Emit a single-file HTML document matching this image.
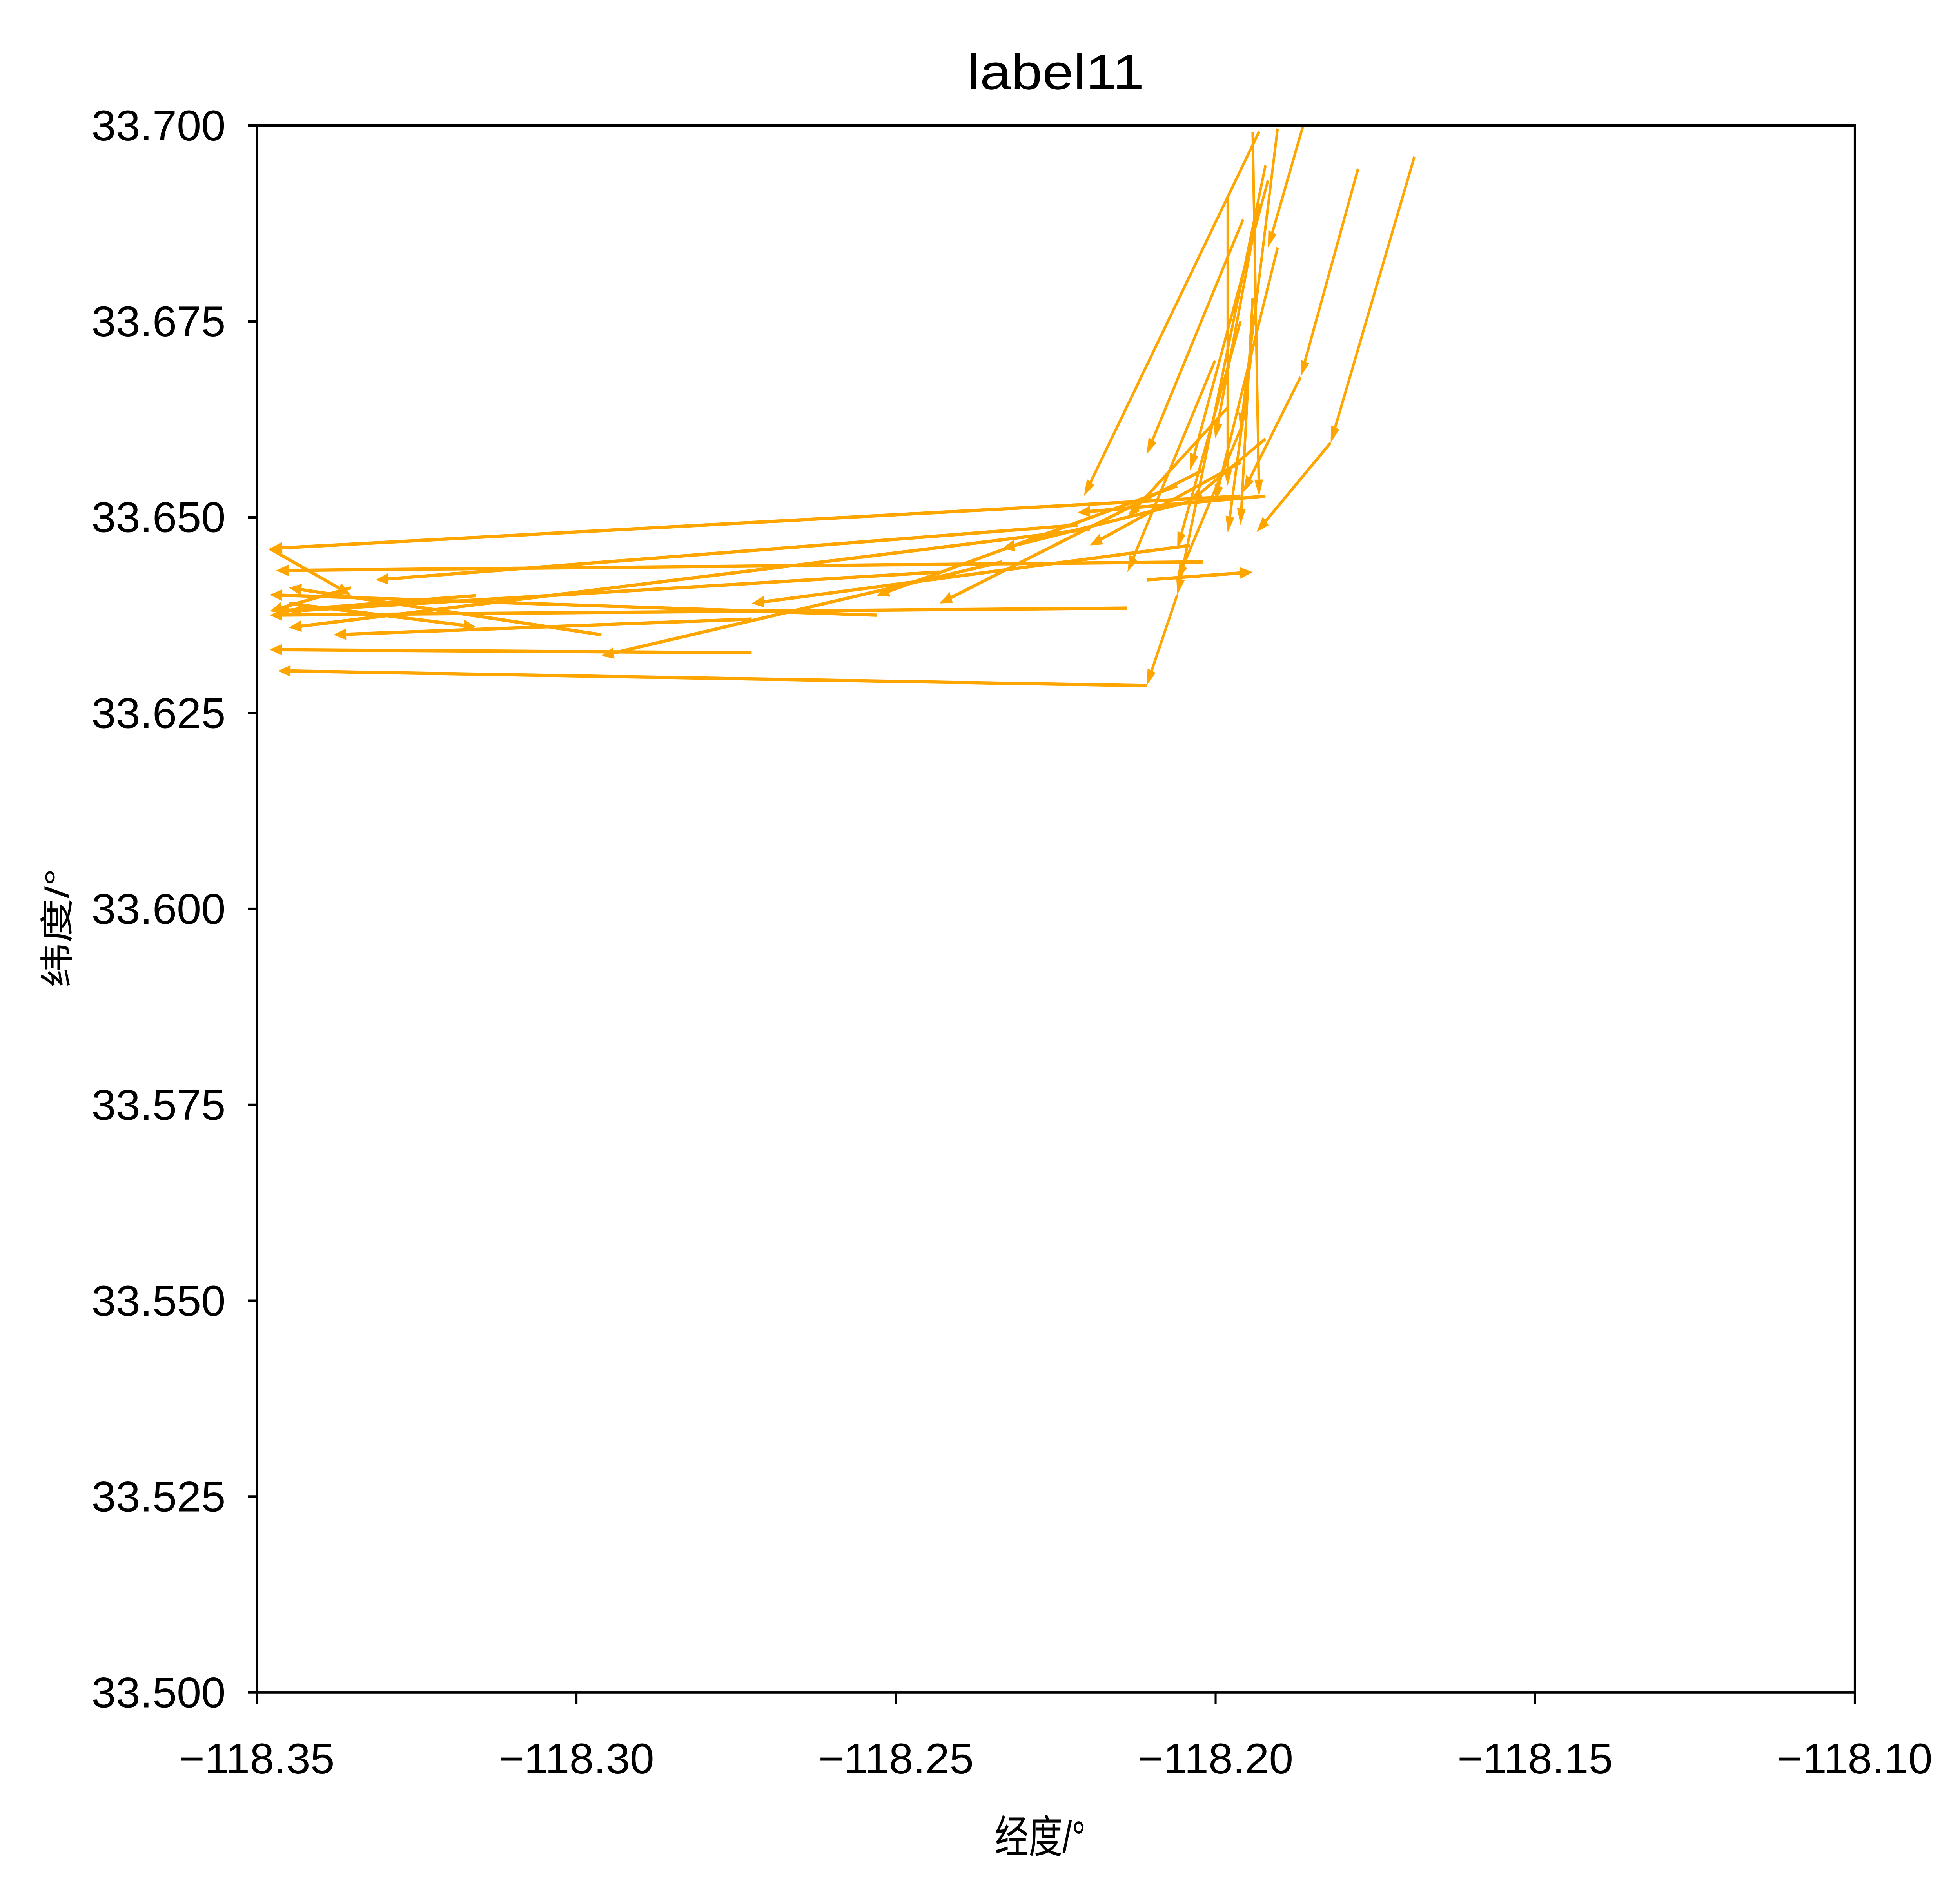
<!DOCTYPE html>
<html><head><meta charset="utf-8">
<style>
html,body{margin:0;padding:0;background:#fff;width:100%;height:100%;overflow:hidden;}
svg{display:block;width:100vw;height:100vh;}
text{font-family:"Liberation Sans","WenQuanYi Zen Hei","Noto Sans CJK SC",sans-serif;fill:#000;}
</style></head>
<body>
<svg id="chart" xmlns="http://www.w3.org/2000/svg" viewBox="0 0 1564 1150.7" preserveAspectRatio="none">
<rect x="0" y="0" width="1564" height="1151" fill="#fff"/>
<g id="arrows"></g>
<rect x="205" y="76" width="1275" height="949" fill="none" stroke="#000" stroke-width="1.6"/>
<g id="xticks"></g>
<g id="yticks"></g>
<text x="772" y="54" textLength="141" lengthAdjust="spacingAndGlyphs" font-size="30">label11</text>
<text x="830" y="1122" text-anchor="middle" font-size="27" font-family="WenQuanYi Zen Hei, sans-serif">经度/°</text>
<text transform="translate(55,562) rotate(-90)" text-anchor="middle" font-size="27" font-family="WenQuanYi Zen Hei, sans-serif">纬度/°</text>
</svg>
<script>
const xTickValues = [-118.35, -118.30, -118.25, -118.20, -118.15, -118.10];
const xTickLabels = ["−118.35","−118.30","−118.25","−118.20","−118.15","−118.10"];
const yTickValues = [33.5, 33.525, 33.55, 33.575, 33.6, 33.625, 33.65, 33.675, 33.7];
const yTickLabels = ["33.500","33.525","33.550","33.575","33.600","33.625","33.650","33.675","33.700"];
const lonStart = [-118.1689,-118.1820,-118.1777,-118.1867,-118.1863,-118.1903,-118.1942,-118.1932,-118.1961,-118.3480,-118.1922,-118.2108,-118.2060,-118.1922,-118.2138,-118.2020,-118.2197,-118.2334,-118.2530,-118.1961,-118.2726,-118.2040,-118.1918,-118.1932,-118.1957,-118.1981,-118.2001,-118.1903,-118.1942,-118.2020,-118.1961,-118.2216,-118.2432,-118.3157,-118.3450,-118.2961,-118.2108,-118.1922,-118.2040,-118.1981,-118.3353,-118.2726,-118.1957,-118.1942,-118.2060];
const latStart = [33.6960,33.6595,33.6945,33.6679,33.7000,33.6996,33.6992,33.6992,33.6527,33.6460,33.6527,33.6285,33.6401,33.6949,33.6384,33.6443,33.6485,33.6443,33.6375,33.6570,33.6327,33.6464,33.6930,33.6900,33.6880,33.6910,33.6700,33.6844,33.6780,33.6560,33.6750,33.6490,33.6430,33.6400,33.6390,33.6350,33.6420,33.6600,33.6520,33.6640,33.6410,33.6370,33.6620,33.6720,33.6540];
const lonEnd = [-118.1820,-118.1936,-118.1867,-118.1957,-118.1918,-118.1961,-118.1932,-118.2206,-118.3480,-118.3353,-118.2216,-118.3467,-118.2108,-118.2060,-118.3480,-118.3470,-118.3450,-118.2961,-118.3480,-118.2197,-118.3480,-118.2726,-118.2040,-118.2001,-118.2108,-118.1981,-118.2138,-118.2001,-118.1961,-118.2432,-118.2060,-118.3314,-118.3450,-118.3470,-118.3157,-118.3450,-118.1942,-118.2040,-118.2334,-118.2138,-118.3480,-118.3380,-118.2060,-118.1981,-118.2530];
const latEnd = [33.6595,33.6481,33.6679,33.6532,33.6844,33.6612,33.6527,33.6527,33.6460,33.6401,33.6506,33.6304,33.6285,33.6401,33.6375,33.6432,33.6359,33.6323,33.6401,33.6464,33.6331,33.6390,33.6560,33.6600,33.6580,33.6540,33.6430,33.6520,33.6490,33.6390,33.6460,33.6420,33.6380,33.6380,33.6360,33.6410,33.6430,33.6520,33.6460,33.6500,33.6380,33.6350,33.6420,33.6480,33.6400];

const X0=205,X1=1480,Y0=76,Y1=1025;
const xScale = v => X0 + (v - (-118.35)) / 0.25 * (X1 - X0);
const yScale = v => Y1 - (v - 33.5) / 0.2 * (Y1 - Y0);
const NS="http://www.w3.org/2000/svg";

const xg=document.getElementById('xticks');
xTickValues.forEach((v,i)=>{
  const x=xScale(v);
  const l=document.createElementNS(NS,'line');
  l.setAttribute('x1',x);l.setAttribute('x2',x);l.setAttribute('y1',Y1);l.setAttribute('y2',Y1+7);
  l.setAttribute('stroke','#000');l.setAttribute('stroke-width','1.6');
  
  
  xg.appendChild(l);
  const t=document.createElementNS(NS,'text');
  t.setAttribute('x',x-62);t.setAttribute('y',Y1+49);t.setAttribute('font-size','26');
  t.setAttribute('textLength','124');t.setAttribute('lengthAdjust','spacingAndGlyphs');
  t.textContent=xTickLabels[i];
  
  
  xg.appendChild(t);
});
const yg=document.getElementById('yticks');
yTickValues.forEach((v,i)=>{
  const y=yScale(v);
  const l=document.createElementNS(NS,'line');
  l.setAttribute('x1',X0-7);l.setAttribute('x2',X0);l.setAttribute('y1',y);l.setAttribute('y2',y);
  l.setAttribute('stroke','#000');l.setAttribute('stroke-width','1.6');
  
  
  yg.appendChild(l);
  const t=document.createElementNS(NS,'text');
  t.setAttribute('x',X0-132);t.setAttribute('y',y+9);t.setAttribute('font-size','26');
  t.setAttribute('textLength','107');t.setAttribute('lengthAdjust','spacingAndGlyphs');
  t.textContent=yTickLabels[i];
  
  
  yg.appendChild(t);
});

const ag=document.getElementById('arrows');
for(let i=0;i<lonStart.length;i++){
  const x0=xScale(lonStart[i]),y0=yScale(latStart[i]),x1=xScale(lonEnd[i]),y1=yScale(latEnd[i]);
  const dx=x1-x0,dy=y1-y0,L=Math.hypot(dx,dy)||1;
  const ux=dx/L,uy=dy/L,hl=10,hw=3.5;
  const bx=x1-ux*hl,by=y1-uy*hl;
  const ln=document.createElementNS(NS,'line');
  ln.setAttribute('x1',x0);ln.setAttribute('y1',y0);ln.setAttribute('x2',bx);ln.setAttribute('y2',by);
  ln.setAttribute('stroke','#FFA500');ln.setAttribute('stroke-width','2');
  
  
  ag.appendChild(ln);
  const p=document.createElementNS(NS,'polygon');
  p.setAttribute('points',`${x1},${y1} ${bx-uy*hw},${by+ux*hw} ${bx+uy*hw},${by-ux*hw}`);
  p.setAttribute('fill','#FFA500');
  
  
  ag.appendChild(p);
}
</script>
</body></html>
